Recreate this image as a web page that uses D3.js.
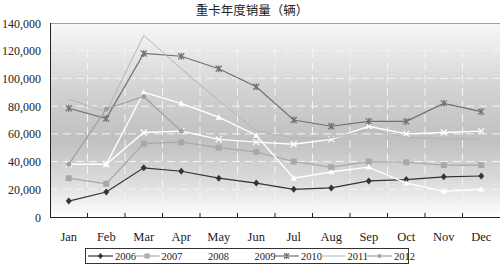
<!DOCTYPE html>
<html lang="zh">
<head>
<meta charset="UTF-8">
<title>重卡年度销量</title>
<script src="https://d3js.org/d3.v7.min.js"></script>
<style>
  body { margin: 0; background: #fff; }
  svg { display: block; }
  .lbl { font-family: "Liberation Serif", "DejaVu Serif", serif; fill: #222; }
  .ttl { font-family: "Noto Sans CJK SC", sans-serif; fill: #222; }
</style>
</head>
<body>
<div id="chart"></div>
<script>
const months = ["Jan","Feb","Mar","Apr","May","Jun","Jul","Aug","Sep","Oct","Nov","Dec"];
const yTicks = [0, 20000, 40000, 60000, 80000, 100000, 120000, 140000];
const years = ["2006","2007","2008","2009","2010","2011","2012"];

const s2006 = [11500, 18000, 35500, 33000, 28000, 24500, 20000, 21000, 26000, 27000, 29000, 29600];
const s2007 = [28000, 24000, 53000, 54000, 50000, 47000, 40000, 36000, 40000, 39500, 37500, 37500];
const s2008 = [38000, 38000, 90000, 82000, 72000, 59000, 28000, 32500, 36000, 24500, 18500, 20000];
const s2009 = [38000, 38000, 61000, 62000, 56000, 54000, 52500, 56000, 65500, 60000, 61000, 62000];
const s2010 = [78500, 71000, 118000, 116000, 107000, 94000, 70000, 65500, 69000, 69000, 82000, 76000];
const s2011 = [85000, 76000, 131000, 107000, 84000, 62000, 57000, 57000, 63000, 57500, 56500, 56500];
const s2012 = [38000, 78000, 87000, 62000, null, null, null, null, null, null, null, null];

const seriesValues = [s2006, s2007, s2008, s2009, s2010, s2011, s2012];
const styles = {
  "2006": {color: "#333333", width: 1.2, marker: "diamond", mfill: "#333333"},
  "2007": {color: "#a8a8a8", width: 1.2, marker: "square", mfill: "#a8a8a8"},
  "2008": {color: "#ffffff", width: 1.4, marker: "triangle", mfill: "#ffffff"},
  "2009": {color: "#ffffff", width: 1.4, marker: "cross", mfill: "#ffffff"},
  "2010": {color: "#707070", width: 1.2, marker: "asterisk", mfill: "#707070"},
  "2011": {color: "#b4b4b4", width: 1, marker: null, mfill: null},
  "2012": {color: "#a0a0a0", width: 1.2, marker: "circle", mfill: "#a0a0a0"}
};

const W = 500, H = 268;
const plotL = 50, plotR = 500, plotT = 23, plotB = 217;

const svg = d3.select("#chart").append("svg").attr("width", W).attr("height", H);

const defs = svg.append("defs");
const grad = defs.append("linearGradient").attr("id", "bg")
  .attr("x1", 0).attr("y1", 0).attr("x2", 0).attr("y2", 1);
grad.append("stop").attr("offset", "0%").attr("stop-color", "#f8f8f8");
grad.append("stop").attr("offset", "35%").attr("stop-color", "#d2d2d2");
grad.append("stop").attr("offset", "60%").attr("stop-color", "#c0c0c0");
grad.append("stop").attr("offset", "82%").attr("stop-color", "#dcdcdc");
grad.append("stop").attr("offset", "100%").attr("stop-color", "#ffffff");

const x = d3.scaleBand().domain(months).range([plotL, plotR]);
const y = d3.scaleLinear().domain([0, 140000]).range([plotB, plotT]);
const cx = m => x(m) + x.bandwidth() / 2;

// plot background
svg.append("rect").attr("x", plotL).attr("y", plotT)
  .attr("width", plotR - plotL).attr("height", plotB - plotT)
  .attr("fill", "url(#bg)");

// gridlines
svg.append("g").selectAll("line").data(yTicks.slice(1, -1)).join("line")
  .attr("x1", plotL).attr("x2", plotR)
  .attr("y1", d => y(d)).attr("y2", d => y(d))
  .attr("stroke", "#f4f4f4").attr("stroke-width", 1).attr("stroke-dasharray", "8,5");
svg.append("g").selectAll("line").data(months.slice(1)).join("line")
  .attr("x1", d => x(d)).attr("x2", d => x(d))
  .attr("y1", plotT).attr("y2", plotB)
  .attr("stroke", "#f4f4f4").attr("stroke-width", 1).attr("stroke-dasharray", "8,5");

// top border
svg.append("line").attr("x1", plotL).attr("x2", plotR).attr("y1", plotT + 0.5).attr("y2", plotT + 0.5)
  .attr("stroke", "#a0a0a0");

// title
svg.append("text").attr("class", "ttl").attr("x", 252).attr("y", 15).attr("text-anchor", "middle")
  .attr("font-size", 12.5).text("重卡年度销量（辆）");

// y axis labels
svg.append("g").selectAll("text").data(yTicks).join("text").attr("class", "lbl")
  .attr("x", 41).attr("y", d => y(d) + 4.5).attr("text-anchor", "end")
  .attr("font-size", 12).text(d => d3.format(",")(d));

// axes lines
svg.append("line").attr("x1", plotL + 0.5).attr("x2", plotL + 0.5).attr("y1", plotT).attr("y2", plotB)
  .attr("stroke", "#222");
svg.append("line").attr("x1", plotL).attr("x2", plotR).attr("y1", plotB + 0.5).attr("y2", plotB + 0.5)
  .attr("stroke", "#222");

// x ticks (inside) and labels
svg.append("g").selectAll("line").data(months.slice(1)).join("line")
  .attr("x1", d => x(d)).attr("x2", d => x(d))
  .attr("y1", plotB).attr("y2", plotB - 4).attr("stroke", "#222");
svg.append("g").selectAll("text").data(months).join("text").attr("class", "lbl")
  .attr("x", d => cx(d)).attr("y", 241).attr("text-anchor", "middle")
  .attr("font-size", 12.5).text(d => d);

function drawMarker(g, type, px, py, st, size) {
  const s = size || 3;
  if (type === "diamond") {
    g.append("path").attr("d", `M${px},${py - s - 0.5}L${px + s},${py}L${px},${py + s + 0.5}L${px - s},${py}Z`)
      .attr("fill", st.mfill);
  } else if (type === "square") {
    g.append("rect").attr("x", px - s).attr("y", py - s).attr("width", 2 * s).attr("height", 2 * s)
      .attr("fill", st.mfill);
  } else if (type === "triangle") {
    g.append("path").attr("d", `M${px},${py - s}L${px + s},${py + s * 0.8}L${px - s},${py + s * 0.8}Z`)
      .attr("fill", st.mfill);
  } else if (type === "cross") {
    g.append("path").attr("d", `M${px - s},${py - s}L${px + s},${py + s}M${px - s},${py + s}L${px + s},${py - s}`)
      .attr("stroke", st.mfill).attr("stroke-width", 1.2);
  } else if (type === "asterisk") {
    g.append("path").attr("d", `M${px - s},${py - s}L${px + s},${py + s}M${px - s},${py + s}L${px + s},${py - s}M${px},${py - s - 0.5}L${px},${py + s + 0.5}`)
      .attr("stroke", st.mfill).attr("stroke-width", 1.2);
  } else if (type === "circle") {
    g.append("circle").attr("cx", px).attr("cy", py).attr("r", s - 0.5).attr("fill", st.mfill);
  }
}

// series
const line = d3.line().defined(d => d.v != null).x(d => cx(d.m)).y(d => y(d.v));
years.forEach((yr, i) => {
  const st = styles[yr];
  const pts = months.map((m, j) => ({m: m, v: seriesValues[i][j]}));
  const g = svg.append("g");
  g.append("path").datum(pts).attr("d", line)
    .attr("fill", "none").attr("stroke", st.color).attr("stroke-width", st.width);
  if (st.marker) {
    pts.filter(d => d.v != null).forEach(d => drawMarker(g, st.marker, cx(d.m), y(d.v), st));
  }
});

// legend
const lg = svg.append("g");
lg.append("rect").attr("x", 85.5).attr("y", 248.5).attr("width", 323).attr("height", 15)
  .attr("fill", "#fff").attr("stroke", "#333");
const lx = d3.scalePoint().domain(years).range([88, 367]);
years.forEach(yr => {
  const st = styles[yr];
  const x0 = lx(yr);
  lg.append("line").attr("x1", x0).attr("x2", x0 + 25).attr("y1", 256).attr("y2", 256)
    .attr("stroke", st.color).attr("stroke-width", st.width);
  if (st.marker && st.color !== "#ffffff") drawMarker(lg, st.marker, x0 + 12.5, 256, st, 2.5);
  lg.append("text").attr("class", "lbl").attr("x", x0 + 27).attr("y", 260)
    .attr("font-size", 10.5).text(yr);
});
</script>
</body>
</html>
